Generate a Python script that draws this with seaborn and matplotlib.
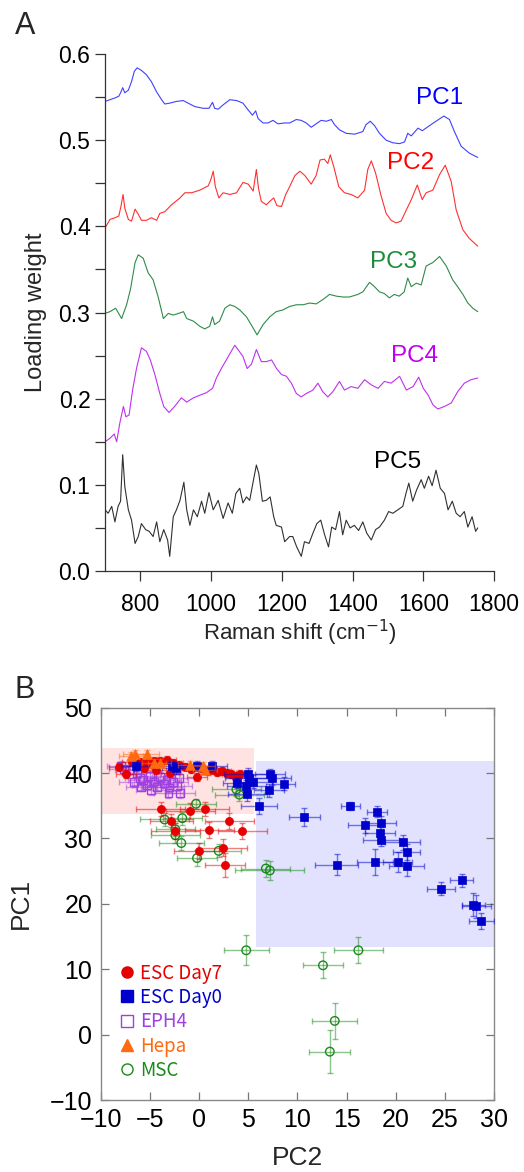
import numpy as np
import pandas as pd
import matplotlib
matplotlib.use("Agg")
import matplotlib.pyplot as plt
from matplotlib.patches import Rectangle
from matplotlib.lines import Line2D
import seaborn as sns

# ---------------- Panel A data: PCA loadings ----------------
pc1_x = [700, 714, 728, 739, 744, 750, 756, 766, 775, 783, 791, 803, 817, 831, 846, 860, 869, 883, 902, 921,
         935, 954, 978, 994, 1004, 1010, 1020, 1034, 1053, 1072, 1090, 1105, 1117, 1126, 1133, 1147, 1161, 1175,
         1189, 1208, 1222, 1241, 1255, 1269, 1283, 1297, 1311, 1326, 1340, 1349, 1363, 1382, 1406, 1429, 1438,
         1450, 1462, 1476, 1495, 1514, 1533, 1547, 1556, 1566, 1585, 1597, 1618, 1636, 1658, 1674, 1688, 1707,
         1730, 1754]
pc1_y = [0.545, 0.547, 0.549, 0.551, 0.555, 0.561, 0.555, 0.558, 0.568, 0.580, 0.584, 0.581, 0.576, 0.568,
         0.556, 0.547, 0.542, 0.543, 0.545, 0.546, 0.543, 0.539, 0.537, 0.537, 0.544, 0.537, 0.536, 0.541, 0.547,
         0.546, 0.543, 0.535, 0.529, 0.534, 0.525, 0.520, 0.520, 0.523, 0.519, 0.520, 0.520, 0.524, 0.523, 0.520,
         0.515, 0.519, 0.523, 0.522, 0.524, 0.518, 0.512, 0.508, 0.507, 0.510, 0.518, 0.522, 0.517, 0.508, 0.500,
         0.497, 0.496, 0.498, 0.508, 0.505, 0.514, 0.511, 0.517, 0.522, 0.528, 0.524, 0.510, 0.493, 0.485, 0.480]

pc2_x = [700, 714, 728, 739, 745, 751, 756, 766, 775, 785, 794, 803, 817, 831, 846, 855, 869, 888, 912, 926,
         945, 968, 992, 999, 1006, 1012, 1022, 1034, 1053, 1072, 1090, 1105, 1119, 1128, 1134, 1142, 1156, 1166,
         1177, 1186, 1199, 1211, 1222, 1237, 1251, 1265, 1283, 1297, 1308, 1320, 1330, 1337, 1347, 1361, 1377,
         1396, 1415, 1434, 1443, 1453, 1465, 1481, 1495, 1509, 1523, 1537, 1552, 1566, 1583, 1597, 1608, 1627,
         1646, 1662, 1679, 1693, 1712, 1730, 1754]
pc2_y = [0.398, 0.408, 0.410, 0.412, 0.423, 0.437, 0.421, 0.408, 0.406, 0.420, 0.414, 0.407, 0.407, 0.410,
         0.407, 0.415, 0.417, 0.425, 0.433, 0.439, 0.439, 0.442, 0.447, 0.454, 0.464, 0.446, 0.433, 0.439, 0.437,
         0.439, 0.451, 0.449, 0.441, 0.466, 0.444, 0.429, 0.425, 0.429, 0.433, 0.424, 0.423, 0.437, 0.446, 0.459,
         0.464, 0.459, 0.449, 0.459, 0.477, 0.478, 0.473, 0.483, 0.469, 0.446, 0.439, 0.437, 0.433, 0.442, 0.466,
         0.476, 0.462, 0.435, 0.415, 0.407, 0.404, 0.406, 0.419, 0.431, 0.448, 0.431, 0.439, 0.442, 0.460, 0.471,
         0.452, 0.419, 0.396, 0.386, 0.377]

pc3_x = [700, 714, 730, 747, 761, 772, 785, 794, 808, 822, 836, 851, 865, 879, 893, 908, 922, 931, 950, 968,
         982, 996, 1004, 1010, 1024, 1039, 1053, 1067, 1081, 1100, 1116, 1130, 1147, 1166, 1184, 1203, 1222, 1241,
         1260, 1279, 1297, 1316, 1335, 1354, 1373, 1391, 1415, 1429, 1448, 1462, 1476, 1490, 1504, 1518, 1532,
         1546, 1556, 1566, 1580, 1594, 1608, 1627, 1646, 1665, 1683, 1697, 1712, 1726, 1740, 1754]
pc3_y = [0.299, 0.301, 0.305, 0.293, 0.309, 0.327, 0.358, 0.367, 0.363, 0.346, 0.338, 0.317, 0.293, 0.299,
         0.297, 0.299, 0.301, 0.293, 0.290, 0.284, 0.281, 0.284, 0.295, 0.286, 0.290, 0.305, 0.309, 0.307, 0.303,
         0.295, 0.284, 0.274, 0.286, 0.295, 0.301, 0.303, 0.307, 0.309, 0.309, 0.311, 0.310, 0.315, 0.321, 0.319,
         0.318, 0.318, 0.321, 0.324, 0.335, 0.330, 0.324, 0.322, 0.317, 0.321, 0.319, 0.324, 0.340, 0.330, 0.334,
         0.332, 0.354, 0.358, 0.365, 0.354, 0.338, 0.330, 0.321, 0.311, 0.305, 0.301]

pc4_x = [700, 714, 726, 733, 742, 752, 759, 768, 778, 789, 803, 817, 828, 841, 855, 866, 881, 897, 916, 931,
         950, 968, 987, 1004, 1015, 1029, 1043, 1057, 1067, 1076, 1090, 1102, 1114, 1128, 1142, 1156, 1171, 1185,
         1199, 1213, 1227, 1241, 1255, 1269, 1288, 1302, 1316, 1330, 1344, 1363, 1377, 1396, 1415, 1434, 1453,
         1472, 1490, 1509, 1533, 1552, 1571, 1587, 1600, 1614, 1627, 1641, 1660, 1679, 1697, 1716, 1735, 1754]
pc4_y = [0.150, 0.154, 0.159, 0.150, 0.172, 0.191, 0.179, 0.181, 0.210, 0.235, 0.259, 0.255, 0.245, 0.228,
         0.206, 0.191, 0.184, 0.191, 0.201, 0.196, 0.201, 0.204, 0.207, 0.212, 0.224, 0.235, 0.245, 0.255, 0.262,
         0.257, 0.249, 0.235, 0.240, 0.257, 0.243, 0.243, 0.245, 0.235, 0.228, 0.226, 0.218, 0.206, 0.202, 0.206,
         0.210, 0.218, 0.208, 0.202, 0.208, 0.220, 0.210, 0.214, 0.212, 0.222, 0.216, 0.212, 0.220, 0.218, 0.226,
         0.210, 0.214, 0.225, 0.212, 0.204, 0.193, 0.188, 0.191, 0.195, 0.208, 0.218, 0.222, 0.224]

pc5_x = [700, 709, 719, 728, 737, 744, 750, 756, 766, 775, 785, 794, 803, 815, 825, 836, 846, 855, 866, 877,
         883, 893, 902, 912, 923, 931, 940, 950, 961, 973, 982, 994, 1006, 1020, 1034, 1048, 1060, 1070, 1081,
         1090, 1100, 1109, 1120, 1128, 1135, 1145, 1156, 1167, 1177, 1184, 1199, 1208, 1222, 1231, 1242, 1255,
         1264, 1277, 1288, 1299, 1310, 1321, 1332, 1341, 1352, 1363, 1372, 1382, 1393, 1405, 1417, 1429, 1440,
         1453, 1465, 1476, 1490, 1502, 1514, 1528, 1542, 1551, 1559, 1570, 1581, 1594, 1603, 1615, 1625, 1636,
         1648, 1660, 1670, 1682, 1693, 1704, 1716, 1726, 1738, 1748, 1754]
pc5_y = [0.071, 0.067, 0.075, 0.057, 0.075, 0.081, 0.135, 0.098, 0.071, 0.059, 0.032, 0.040, 0.055, 0.048,
         0.046, 0.040, 0.057, 0.034, 0.048, 0.036, 0.017, 0.063, 0.071, 0.082, 0.103, 0.071, 0.053, 0.071, 0.063,
         0.081, 0.067, 0.091, 0.071, 0.082, 0.061, 0.079, 0.067, 0.090, 0.096, 0.079, 0.086, 0.082, 0.106, 0.123,
         0.113, 0.081, 0.082, 0.086, 0.063, 0.053, 0.051, 0.034, 0.040, 0.040, 0.028, 0.017, 0.034, 0.032, 0.044,
         0.055, 0.059, 0.042, 0.028, 0.051, 0.048, 0.069, 0.042, 0.059, 0.050, 0.053, 0.047, 0.057, 0.044, 0.036,
         0.048, 0.051, 0.059, 0.069, 0.067, 0.071, 0.075, 0.090, 0.102, 0.081, 0.094, 0.106, 0.096, 0.110, 0.099,
         0.117, 0.096, 0.090, 0.071, 0.081, 0.067, 0.063, 0.069, 0.051, 0.063, 0.046, 0.050]

pc_names = ["PC1", "PC2", "PC3", "PC4", "PC5"]
pc_line_colors = ["#4040FF", "#FF3030", "#2E8B4A", "#C030F0", "#303030"]
pc_text_colors = ["#0000FF", "#FF0000", "#1E8B3A", "#C000F0", "#000000"]
pc_label_x = [1645, 1565, 1515, 1575, 1528]
pc_label_y = [0.549, 0.473, 0.359, 0.250, 0.127]

# ---------------- Panel B data: PCA scores ----------------
d0_pc2 = [-6.4, -2.7, -2.3, -0.2, 1.3, 3.9, 4.8, 4.9, 5.0, 5.1, 5.5, 6.1, 7.1, 7.2, 7.4, 8.6, 10.7, 14.0, 15.4,
          16.9, 17.9, 18.1, 18.4, 18.5, 18.5, 20.2, 20.7, 21.1, 21.1, 24.6, 26.7, 27.9, 28.2, 28.7]
d0_pc1 = [41.1, 41.1, 40.7, 41.1, 41.1, 38.5, 38.0, 36.8, 39.8, 39.3, 38.7, 35.0, 37.4, 39.8, 39.2, 38.4, 33.3,
          26.0, 35.0, 32.0, 26.4, 34.1, 30.8, 32.3, 29.8, 26.4, 29.4, 27.9, 25.8, 22.3, 23.6, 19.9, 19.6, 17.4]
d0_xerr = [1.5, 1.5, 1.5, 1.5, 1.5, 1.5, 2.0, 2.0, 2.5, 2.5, 2.0, 1.8, 1.5, 1.5, 2.0, 1.2, 1.6, 2.2, 1.0,
           1.8, 1.8, 1.0, 1.5, 1.5, 1.8, 1.5, 1.8, 1.4, 1.8, 1.4, 1.2, 1.2, 1.5, 1.3]
d0_yerr = [0.8, 0.8, 0.8, 0.8, 0.8, 0.8, 1.0, 1.0, 1.0, 1.0, 1.0, 1.2, 1.0, 0.8, 1.0, 1.0, 1.4, 1.6, 0.6,
           1.2, 2.0, 0.8, 1.2, 1.2, 1.0, 1.5, 1.2, 1.2, 1.5, 1.0, 1.0, 1.8, 1.8, 1.2]

d7_pc2 = [-8.1, -7.4, -6.8, -6.0, -5.3, -4.6, -4.0, -3.3, -2.9, -2.6, -2.0, -1.4, -0.8, -0.2, 0.3, 0.9, 1.5,
          1.8, 2.3, 2.8, 3.3, 3.7, 4.2, -5.6, -4.4,
          -3.9, -2.8, -0.9, 0.6, 3.1, 1.05, 4.4, -2.4, 2.4, 0.0, 2.65]
d7_pc1 = [40.9, 39.8, 41.7, 41.7, 41.5, 41.8, 41.9, 42.0, 40.0, 41.6, 41.3, 41.0, 40.6, 39.4, 40.8, 40.3, 40.5,
          40.2, 40.3, 40.0, 39.9, 39.6, 39.8, 40.8, 40.4,
          34.5, 32.7, 34.2, 34.5, 32.7, 31.3, 31.1, 31.1, 28.6, 28.1, 25.95]
d7_xerr = [1.0] * 25 + [2.5, 2.2, 2.5, 2.5, 2.5, 2.5, 2.5, 2.5, 2.5, 2.5, 2.0]
d7_yerr = [0.6] * 25 + [1.0, 1.0, 1.2, 1.0, 1.2, 1.2, 1.2, 1.2, 1.3, 1.2, 1.8]

eph_pc2 = [-7.9, -7.6, -7.0, -6.3, -6.0, -5.7, -5.3, -5.0, -4.6, -4.3, -4.0, -3.6, -3.3, -3.0, -2.6, -2.2,
           -3.1, -1.9, -6.6, -5.9, -4.9, -2.0]
eph_pc1 = [41.1, 40.6, 40.5, 40.0, 39.3, 38.9, 38.2, 39.6, 38.7, 37.9, 39.4, 38.4, 39.0, 37.8, 38.6, 38.0,
           36.9, 36.9, 38.6, 37.9, 37.4, 39.3]
eph_xerr = [1.5] * 22
eph_yerr = [0.7] * 22

hepa_pc2 = [-6.9, -6.5, -5.3, -4.6, -4.0, -0.9, 0.4, 0.6]
hepa_pc1 = [42.6, 42.9, 42.9, 41.5, 41.5, 41.2, 41.1, 40.5]
hepa_xerr = [1.2] * 8
hepa_yerr = [0.6] * 8

msc_pc2 = [-0.3, -3.5, -1.7, -2.4, -2.4, -1.8, 2.0, -0.2, 3.8, 4.1, 6.8, 7.2, 4.8, 12.6, 16.2, 13.8, 13.3]
msc_pc1 = [35.3, 32.9, 33.1, 31.4, 30.5, 29.3, 28.1, 27.0, 37.5, 36.7, 25.4, 25.1, 12.9, 10.6, 12.9, 2.1, -2.6]
msc_xerr = [2.0, 2.5, 2.0, 2.0, 2.5, 2.3, 2.3, 2.0, 2.5, 2.5, 2.5, 3.5, 2.3, 2.0, 2.5, 2.3, 2.1]
msc_yerr = [0.8, 1.0, 1.0, 1.0, 1.2, 1.0, 1.0, 1.2, 1.0, 1.0, 1.3, 1.5, 2.3, 2.0, 2.0, 2.8, 3.3]

group_labels = ["ESC Day7", "ESC Day0", "EPH4", "Hepa", "MSC"]
group_colors = ["#E60000", "#0000CC", "#A040E0", "#FF6A10", "#1A8A1A"]

# shaded regions: (x0, x1, y0, y1)
pink_region = (-10, 5.6, 33.8, 43.9)
blue_region = (5.8, 30, 13.4, 41.85)

# ---------------- figure ----------------
sns.set_theme(style="ticks")
plt.rcParams["font.family"] = ["Liberation Sans", "DejaVu Sans"]

fig = plt.figure(figsize=(5.24, 11.72), dpi=100)

# ---- Panel A ----
axA = fig.add_axes([0.2004, 0.5128, 0.7424, 0.4411])
frames = []
for name, xs, ys in zip(pc_names, [pc1_x, pc2_x, pc3_x, pc4_x, pc5_x], [pc1_y, pc2_y, pc3_y, pc4_y, pc5_y]):
    frames.append(pd.DataFrame({"shift": xs, "weight": ys, "pc": name}))
dfA = pd.concat(frames, ignore_index=True)
sns.lineplot(data=dfA, x="shift", y="weight", hue="pc", palette=dict(zip(pc_names, pc_line_colors)),
             estimator=None, sort=True, linewidth=0.8, legend=False, ax=axA)
for name, c, lx, ly in zip(pc_names, pc_text_colors, pc_label_x, pc_label_y):
    axA.text(lx, ly, name, color=c, fontsize=17.5, ha="center", va="center")
axA.set_xlim(700, 1800)
axA.set_ylim(0, 0.6)
axA.set_xticks([800, 1000, 1200, 1400, 1600, 1800])
axA.set_yticks([0.0, 0.1, 0.2, 0.3, 0.4, 0.5, 0.6])
axA.set_yticklabels(["0.0", "0.1", "0.2", "0.3", "0.4", "0.5", "0.6"])
axA.set_yticks(np.arange(0.05, 0.6, 0.1), minor=True)
axA.tick_params(axis="both", which="both", direction="out", length=7, width=0.9, labelsize=16.5, colors="#333333",
                labelcolor="black")
axA.tick_params(axis="x", pad=9)
for s in ["top", "right"]:
    axA.spines[s].set_visible(False)
for s in ["left", "bottom"]:
    axA.spines[s].set_color("#333333")
    axA.spines[s].set_linewidth(0.9)
axA.set_xlabel("Raman shift (cm$^{-1}$)", fontsize=16, labelpad=1)
axA.set_ylabel("Loading weight", fontsize=17, labelpad=8)
fig.text(0.028, 0.978, "A", fontsize=22, ha="left", va="center")

# ---- Panel B ----
axB = fig.add_axes([0.192, 0.0614, 0.751, 0.3348])
for (x0, x1, y0, y1), fc in [(pink_region, "#FFE2E2"), (blue_region, "#E2E2FF")]:
    axB.add_patch(Rectangle((x0, y0), x1 - x0, y1 - y0, facecolor=fc, edgecolor="none", zorder=0))

groups = [
    ("EPH4", eph_pc2, eph_pc1, eph_xerr, eph_yerr, "s", True, 32),
    ("MSC", msc_pc2, msc_pc1, msc_xerr, msc_yerr, "o", True, 38),
    ("ESC Day7", d7_pc2, d7_pc1, d7_xerr, d7_yerr, "o", False, 34),
    ("ESC Day0", d0_pc2, d0_pc1, d0_xerr, d0_yerr, "s", False, 34),
    ("Hepa", hepa_pc2, hepa_pc1, hepa_xerr, hepa_yerr, "^", False, 48),
]
cmap = dict(zip(group_labels, group_colors))
for z, (name, xs, ys, xe, ye, mk, hollow, sz) in enumerate(groups):
    c = cmap[name]
    axB.errorbar(xs, ys, xerr=xe, yerr=ye, fmt="none", ecolor=c, alpha=0.5, elinewidth=1.0,
                 capsize=2.5, capthick=1.0, zorder=2 + 2 * z)
    df = pd.DataFrame({"pc2": xs, "pc1": ys})
    if hollow:
        sns.scatterplot(data=df, x="pc2", y="pc1", marker=mk, s=sz, facecolors="none", edgecolor=c,
                        linewidth=1.0, ax=axB, zorder=3 + 2 * z, legend=False)
    else:
        sns.scatterplot(data=df, x="pc2", y="pc1", marker=mk, s=sz, color=c, edgecolor=c,
                        linewidth=0.5, ax=axB, zorder=3 + 2 * z, legend=False)

axB.set_xlim(-10, 30)
axB.set_ylim(-10, 50)
axB.set_xticks(np.arange(-10, 31, 5))
axB.set_yticks(np.arange(-10, 51, 10))
axB.tick_params(axis="both", which="both", direction="in", length=6, width=0.9, labelsize=18,
                top=True, right=True, colors="#777777", labelcolor="black", pad=6)
for s in axB.spines.values():
    s.set_color("#888888")
    s.set_linewidth(1.0)
axB.set_xlabel("PC2", fontsize=19, labelpad=10)
axB.set_ylabel("PC1", fontsize=19, labelpad=12)
fig.text(0.028, 0.411, "B", fontsize=22, ha="left", va="center")

# legend
leg_markers = ["o", "s", "s", "^", "o"]
leg_hollow = [False, False, True, False, True]
handles = []
for lab, c, mk, hol in zip(group_labels, group_colors, leg_markers, leg_hollow):
    handles.append(Line2D([], [], linestyle="none", marker=mk, markersize=8,
                          markerfacecolor="none" if hol else c, markeredgecolor=c, markeredgewidth=1.0))
leg = axB.legend(handles=handles, labels=group_labels, loc="lower left", bbox_to_anchor=(0.015, 0.015),
                 frameon=False, handlelength=0.8, handletextpad=0.3, labelspacing=0.18, borderaxespad=0.3,
                 prop={"family": ["Noto Sans CJK JP", "DejaVu Sans"], "size": 13.5},
                 labelcolor=group_colors)

fig.savefig("out.png", dpi=100)
